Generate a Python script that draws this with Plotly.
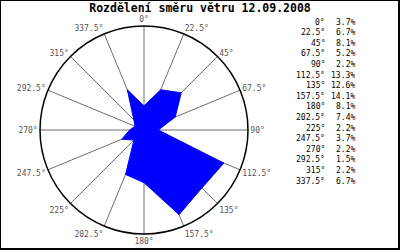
import plotly.graph_objects as go

directions = [0, 22.5, 45, 67.5, 90, 112.5, 135, 157.5, 180, 202.5, 225, 247.5, 270, 292.5, 315, 337.5]
dir_labels = ["0°", "22.5°", "45°", "67.5°", "90°", "112.5°", "135°", "157.5°",
              "180°", "202.5°", "225°", "247.5°", "270°", "292.5°", "315°", "337.5°"]
percent = [3.7, 6.7, 8.1, 5.2, 2.2, 13.3, 12.6, 14.1, 8.1, 7.4, 2.2, 3.7, 2.2, 1.5, 2.2, 6.7]
title_text = "Rozdělení směru větru 12.09.2008"

W, H = 400, 250
fig = go.Figure()

fig.add_trace(go.Scatterpolar(
    theta=directions + directions[:1],
    r=percent + percent[:1],
    mode="lines",
    fill="toself",
    fillcolor="#0000ff",
    line=dict(color="#0000ff", width=1),
    hoverinfo="skip",
))

mono = "DejaVu Sans Mono"

annotations = []
row0 = 22.2
step = 10.6
for i, (lab, p) in enumerate(zip(dir_labels, percent)):
    y = 1 - (row0 + i * step) / H
    annotations.append(dict(text=lab, x=327 / W, y=y, xref="paper", yref="paper",
                            xanchor="right", yanchor="middle", showarrow=False,
                            font=dict(family=mono, size=8, color="#000000")))
    annotations.append(dict(text=f"{p:.1f}%", x=357 / W, y=y, xref="paper", yref="paper",
                            xanchor="right", yanchor="middle", showarrow=False,
                            font=dict(family=mono, size=8, color="#000000")))

shapes = [
    dict(type="line", xref="paper", yref="paper", x0=0.5 / W, x1=0.5 / W, y0=0, y1=1,
         line=dict(color="black", width=1)),
    dict(type="line", xref="paper", yref="paper", x0=0, x1=1, y0=1 - 0.5 / H, y1=1 - 0.5 / H,
         line=dict(color="black", width=1)),
    dict(type="line", xref="paper", yref="paper", x0=1 - 1 / W, x1=1 - 1 / W, y0=0, y1=1,
         line=dict(color="black", width=2)),
    dict(type="line", xref="paper", yref="paper", x0=0, x1=1, y0=1 / H, y1=1 / H,
         line=dict(color="black", width=2)),
]

fig.update_layout(
    width=W, height=H,
    margin=dict(l=0, r=0, t=0, b=0),
    paper_bgcolor="white",
    plot_bgcolor="white",
    showlegend=False,
    title=dict(text="<b>" + title_text + "</b>", x=200 / W, xanchor="center",
               y=1 - 8 / H, yanchor="middle",
               font=dict(family=mono, size=11.5, color="black")),
    polar=dict(
        domain=dict(x=[40 / W, 248 / W], y=[1 - 234 / H, 1 - 26 / H]),
        bgcolor="white",
        radialaxis=dict(range=[0, 16], visible=True, showgrid=False, showline=False,
                        showticklabels=False, ticks=""),
        angularaxis=dict(rotation=90, direction="clockwise",
                         tickmode="array", tickvals=directions, ticktext=dir_labels,
                         showgrid=True, gridcolor="#6e6e6e", gridwidth=1,
                         showline=True, linecolor="black", linewidth=1.5,
                         ticks="", tickfont=dict(family=mono, size=8, color="#555555")),
    ),
    annotations=annotations,
    shapes=shapes,
)

fig.write_html("out.html")
